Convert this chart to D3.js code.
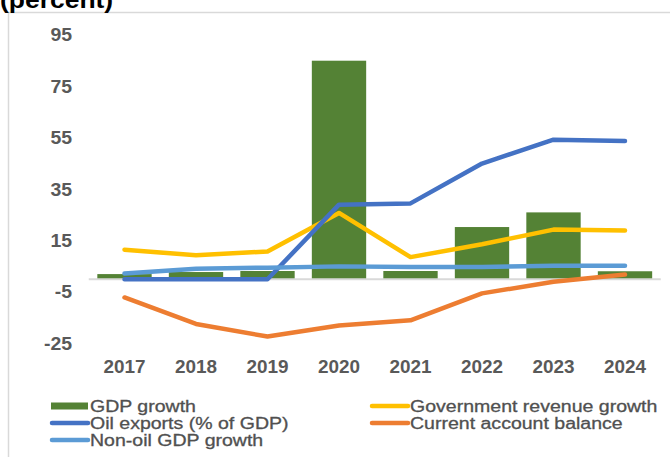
<!DOCTYPE html>
<html>
<head>
<meta charset="utf-8">
<script src="https://cdn.jsdelivr.net/npm/d3@7"></script>
<style>
  html, body { margin: 0; padding: 0; background: #fff; }
  svg { display: block; font-family: "Liberation Sans", Arial, sans-serif; }
</style>
</head>
<body>
<svg id="chart" width="670" height="457"></svg>
<script>
// Macro indicators, 2017-2024 (percent)
const years = ["2017", "2018", "2019", "2020", "2021", "2022", "2023", "2024"];
const gdpGrowth = [2.0, 2.8, 3.2, 85, 3.2, 20.3, 26, 3.1];
const govRevenueGrowth = [11.5, 9.3, 10.8, 25.8, 8.6, 13.6, 19.3, 19.0];
const oilExports = [0, 0, 0, 29, 29.5, 45, 54.3, 53.8];
const currentAccount = [-7.1, -17.4, -22.3, -18, -16, -5.5, -1, 1.8];
const nonOilGdpGrowth = [2.2, 4.1, 4.5, 5.0, 4.8, 4.8, 5.2, 5.2];
const yTicks = [95, 75, 55, 35, 15, -5, -25];

const lineSeries = [
  { name: "Government revenue growth", values: govRevenueGrowth, color: "#FFC000" },
  { name: "Oil exports (% of GDP)", values: oilExports, color: "#4472C4" },
  { name: "Current account balance", values: currentAccount, color: "#ED7D31" },
  { name: "Non-oil GDP growth", values: nonOilGdpGrowth, color: "#5B9BD5" }
];
const barColor = "#548235";
const textColor = "#595959";

const svg = d3.select("#chart");

// stretch a text element horizontally by its own width
function widen(sel, k) {
  sel.each(function () {
    const w = this.getComputedTextLength();
    d3.select(this).attr("textLength", w * k).attr("lengthAdjust", "spacingAndGlyphs");
  });
}

// outer frame (top and left edges visible)
svg.append("line").attr("x1", 8).attr("x2", 670).attr("y1", 12.5).attr("y2", 12.5)
  .attr("stroke", "#d9d9d9").attr("stroke-width", 1.5);
svg.append("line").attr("x1", 8.5).attr("x2", 8.5).attr("y1", 12).attr("y2", 457)
  .attr("stroke", "#d9d9d9").attr("stroke-width", 1.5);

// title, partly cut by the top edge
svg.append("text").attr("x", 0).attr("y", 8)
  .attr("font-size", 23).attr("font-weight", "bold").attr("fill", "#000")
  .text("(percent)").call(widen, 1.15);

const x = d3.scaleBand().domain(years).range([88.75, 660.75])
  .paddingInner(0.24).paddingOuter(0.12);
const y = d3.scaleLinear().domain([-25, 95]).range([343.5, 35]);

// y tick labels (no gridlines), plain hyphen for negatives
const yAxis = svg.append("g").attr("transform", "translate(72,0)")
  .call(d3.axisLeft(y).tickValues(yTicks).tickFormat(d => String(d)).tickSize(0).tickPadding(0));
yAxis.select(".domain").remove();
yAxis.selectAll("text")
  .attr("font-size", 18).attr("font-weight", "bold").attr("fill", textColor)
  .attr("font-family", "Liberation Sans, Arial, sans-serif")
  .call(widen, 1.08);

// bars
svg.append("g").selectAll("rect").data(years).join("rect")
  .attr("x", d => x(d))
  .attr("width", x.bandwidth())
  .attr("y", (d, i) => Math.min(y(gdpGrowth[i]), y(0)))
  .attr("height", (d, i) => Math.abs(y(gdpGrowth[i]) - y(0)))
  .attr("fill", barColor);

// zero line / category axis
const xAxis = svg.append("g").attr("transform", `translate(0,${y(0)})`)
  .call(d3.axisBottom(x).tickSize(0).tickPadding(0));
xAxis.select(".domain").attr("stroke", "#d9d9d9").attr("stroke-width", 2)
  .attr("d", `M${x.range()[0]},0H${x.range()[1]}`);
xAxis.selectAll("text")
  .attr("y", 373.5 - y(0)).attr("dy", 0)
  .attr("font-size", 18).attr("font-weight", "bold").attr("fill", textColor)
  .attr("font-family", "Liberation Sans, Arial, sans-serif")
  .call(widen, 1.05);

// lines
const line = d3.line()
  .x((d, i) => x(years[i]) + x.bandwidth() / 2)
  .y(d => y(d));
svg.append("g").selectAll("path").data(lineSeries).join("path")
  .attr("d", s => line(s.values))
  .attr("fill", "none")
  .attr("stroke", s => s.color)
  .attr("stroke-width", 4.5)
  .attr("stroke-linecap", "round")
  .attr("stroke-linejoin", "round");

// legend
const legendItems = [
  { name: "GDP growth", color: barColor, type: "bar", col: 0, row: 0 },
  { name: lineSeries[0].name, color: lineSeries[0].color, type: "line", col: 1, row: 0 },
  { name: lineSeries[1].name, color: lineSeries[1].color, type: "line", col: 0, row: 1 },
  { name: lineSeries[2].name, color: lineSeries[2].color, type: "line", col: 1, row: 1 },
  { name: lineSeries[3].name, color: lineSeries[3].color, type: "line", col: 0, row: 2 }
];
const colX = [50, 370];
const rowY = [406, 423, 440];
const legend = svg.append("g").selectAll("g").data(legendItems).join("g")
  .attr("transform", d => `translate(${colX[d.col]},${rowY[d.row]})`);
legend.filter(d => d.type === "bar").append("rect")
  .attr("x", 1).attr("y", -3.5).attr("width", 37).attr("height", 7).attr("fill", d => d.color);
legend.filter(d => d.type === "line").append("line")
  .attr("x1", 2).attr("x2", 38).attr("y1", 0).attr("y2", 0)
  .attr("stroke", d => d.color).attr("stroke-width", 4.5).attr("stroke-linecap", "round");
legend.append("text")
  .attr("x", 40).attr("y", 5.5)
  .attr("font-size", 16).attr("fill", "#505050")
  .attr("stroke", "#505050").attr("stroke-width", 0.3)
  .text(d => d.name)
  .call(widen, 1.22);
</script>
</body>
</html>
